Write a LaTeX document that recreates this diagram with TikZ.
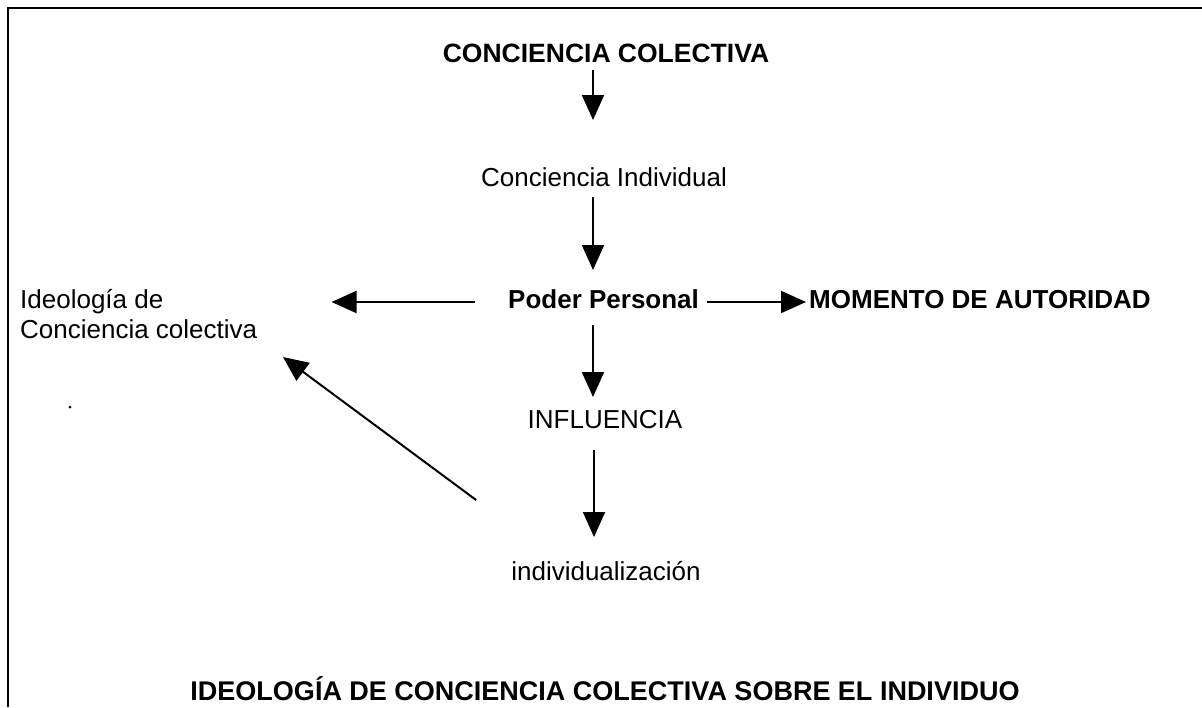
\documentclass[tikz,border=0pt]{standalone}
\usepackage{fontspec}
\setmainfont{Liberation Sans}
\usetikzlibrary{arrows.meta,calc}
\begin{document}
\begin{tikzpicture}[x=1pt,y=-1pt,
  txt/.style={inner sep=0pt,font=\fontsize{26}{31}\selectfont},
  bold/.style={inner sep=0pt,font=\fontsize{26}{31}\selectfont\bfseries},
  arr/.style={line width=2pt,-{Triangle[length=25pt,width=22pt]}},
  frame/.style={line width=2pt}]
\useasboundingbox (0,0) rectangle (1202,707);
\draw[frame] (8,707) -- (8,8) -- (1202,8);
\coordinate (ax) at (593,0);
\node[bold,anchor=base,font=\fontsize{26.5}{31}\selectfont\bfseries] (t1) at (606,62) {CONCIENCIA COLECTIVA};
\node[txt,anchor=base] (t2) at (604,186) {Conciencia Individual};
\node[bold,anchor=base west] (t3) at (508,308) {Poder Personal};
\node[bold,anchor=base west] (mom) at (809,308) {MOMENTO DE AUTORIDAD};
\node[txt,anchor=base west] (id1) at (20,308) {Ideología de};
\node[txt,anchor=base west] (id2) at (20,338) {Conciencia colectiva};
\node[txt,anchor=base] (t4) at (605,428) {INFLUENCIA};
\node[txt,anchor=base] (t5) at (606,580) {individualización};
\node[bold,anchor=base,font=\fontsize{27}{32}\selectfont\bfseries] (title) at (605,700) {IDEOLOGÍA DE CONCIENCIA COLECTIVA SOBRE EL INDIVIDUO};
\draw[arr] ($(t1.base -| ax)+(0,8)$) -- ($(t2.base -| ax)+(0,-66)$);
\draw[arr] ($(t2.base -| ax)+(0,11)$) -- ($(t3.base -| ax)+(0,-38)$);
\draw[arr] ($(t3.base -| ax)+(0,17)$) -- ($(t4.base -| ax)+(0,-31)$);
\draw[arr] ($(t4.base -| ax)+(1,22)$) -- ($(t5.base -| ax)+(1,-43)$);
\draw[arr] ($(t3.base west)+(-33,-6)$) -- ($(id1.base east)+(168,-6)$);
\draw[arr] ($(t3.base east)+(8,-6)$) -- ($(mom.base west)+(-3,-6)$);
\draw[arr] ($(t5.base west)+(-35,-80)$) -- ($(id2.base west)+(263,19)$);
\fill (70,407) circle (1.5);
\end{tikzpicture}
\end{document}
